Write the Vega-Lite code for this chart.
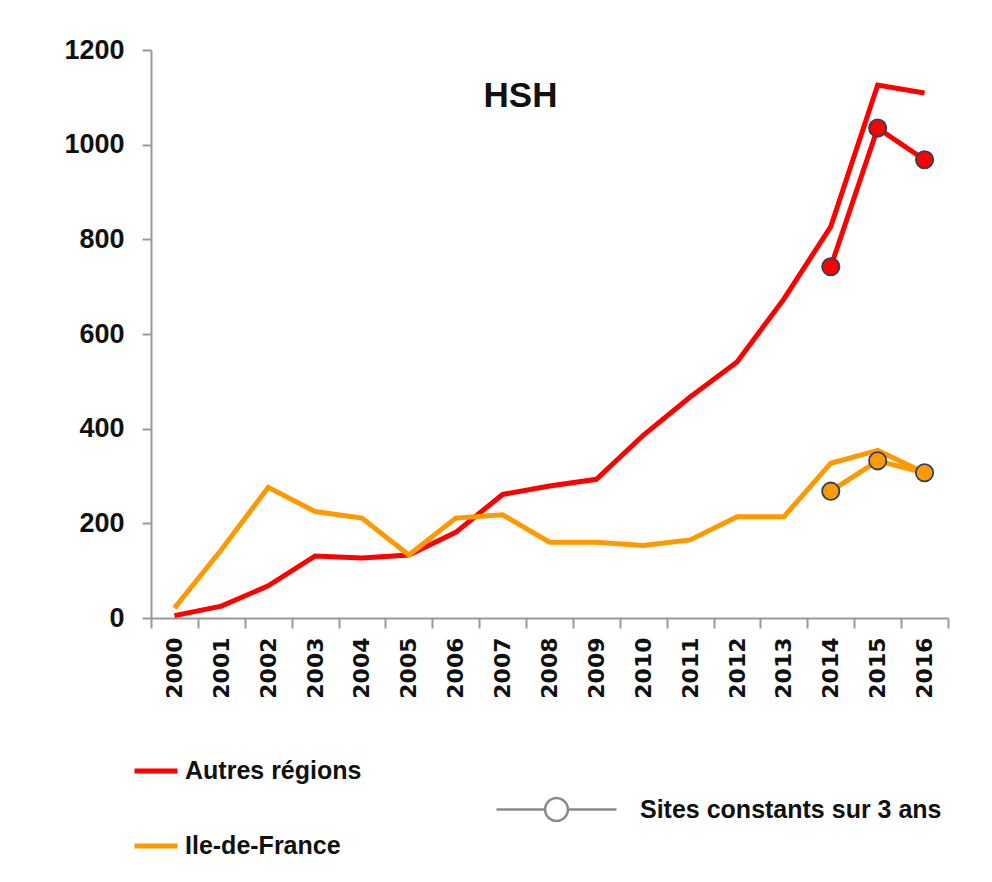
{
  "$schema": "https://vega.github.io/schema/vega-lite/v6.json",
  "width": 797,
  "height": 568,
  "autosize": {"type": "none"},
  "padding": {"left": 151, "top": 50, "right": 44, "bottom": 264},
  "background": "white",
  "config": {"view": {"stroke": null}},
  "title": {"text": "HSH", "font": "Liberation Sans", "fontWeight": "bold", "fontSize": 35, "color": "#111", "anchor": "middle", "frame": "group", "dx": -29, "offset": 0, "baseline": "alphabetic", "dy": 106},
  "data": {"values": [
    {"year": "2000", "series": "Autres régions", "kind": "all", "value": 5},
    {"year": "2001", "series": "Autres régions", "kind": "all", "value": 25},
    {"year": "2002", "series": "Autres régions", "kind": "all", "value": 68},
    {"year": "2003", "series": "Autres régions", "kind": "all", "value": 131},
    {"year": "2004", "series": "Autres régions", "kind": "all", "value": 127},
    {"year": "2005", "series": "Autres régions", "kind": "all", "value": 133},
    {"year": "2006", "series": "Autres régions", "kind": "all", "value": 181},
    {"year": "2007", "series": "Autres régions", "kind": "all", "value": 261},
    {"year": "2008", "series": "Autres régions", "kind": "all", "value": 279},
    {"year": "2009", "series": "Autres régions", "kind": "all", "value": 293},
    {"year": "2010", "series": "Autres régions", "kind": "all", "value": 386},
    {"year": "2011", "series": "Autres régions", "kind": "all", "value": 467},
    {"year": "2012", "series": "Autres régions", "kind": "all", "value": 541},
    {"year": "2013", "series": "Autres régions", "kind": "all", "value": 674},
    {"year": "2014", "series": "Autres régions", "kind": "all", "value": 827},
    {"year": "2015", "series": "Autres régions", "kind": "all", "value": 1126},
    {"year": "2016", "series": "Autres régions", "kind": "all", "value": 1109},
    {"year": "2000", "series": "Ile-de-France", "kind": "all", "value": 21},
    {"year": "2001", "series": "Ile-de-France", "kind": "all", "value": 144},
    {"year": "2002", "series": "Ile-de-France", "kind": "all", "value": 276},
    {"year": "2003", "series": "Ile-de-France", "kind": "all", "value": 225},
    {"year": "2004", "series": "Ile-de-France", "kind": "all", "value": 211},
    {"year": "2005", "series": "Ile-de-France", "kind": "all", "value": 133},
    {"year": "2006", "series": "Ile-de-France", "kind": "all", "value": 211},
    {"year": "2007", "series": "Ile-de-France", "kind": "all", "value": 218},
    {"year": "2008", "series": "Ile-de-France", "kind": "all", "value": 160},
    {"year": "2009", "series": "Ile-de-France", "kind": "all", "value": 160},
    {"year": "2010", "series": "Ile-de-France", "kind": "all", "value": 153},
    {"year": "2011", "series": "Ile-de-France", "kind": "all", "value": 165},
    {"year": "2012", "series": "Ile-de-France", "kind": "all", "value": 214},
    {"year": "2013", "series": "Ile-de-France", "kind": "all", "value": 214},
    {"year": "2014", "series": "Ile-de-France", "kind": "all", "value": 327},
    {"year": "2015", "series": "Ile-de-France", "kind": "all", "value": 354},
    {"year": "2016", "series": "Ile-de-France", "kind": "all", "value": 307},
    {"year": "2014", "series": "Autres régions", "kind": "const", "value": 742},
    {"year": "2015", "series": "Autres régions", "kind": "const", "value": 1035},
    {"year": "2016", "series": "Autres régions", "kind": "const", "value": 968},
    {"year": "2014", "series": "Ile-de-France", "kind": "const", "value": 268},
    {"year": "2015", "series": "Ile-de-France", "kind": "const", "value": 332},
    {"year": "2016", "series": "Ile-de-France", "kind": "const", "value": 307}
  ]},
  "encoding": {
    "x": {
      "field": "year", "type": "ordinal",
      "scale": {"type": "band", "paddingInner": 0, "paddingOuter": 0},
      "axis": {"title": null, "labelAngle": -90, "labelFont": "DejaVu Sans", "labelFontWeight": "bold", "labelFontSize": 22, "labelColor": "#111", "labelPadding": 9, "tickBand": "extent", "tickSize": 10, "tickColor": "#999", "tickWidth": 2, "domainColor": "#999", "domainWidth": 2, "grid": false, "labelOverlap": false}
    },
    "y": {
      "field": "value", "type": "quantitative",
      "scale": {"domain": [0, 1200], "nice": false},
      "axis": {"title": null, "values": [0, 200, 400, 600, 800, 1000, 1200], "format": "d", "labelFont": "Liberation Sans", "labelFontWeight": "bold", "labelFontSize": 27, "labelColor": "#111", "labelPadding": 18, "tickSize": 9, "tickColor": "#999", "tickWidth": 2, "domainColor": "#999", "domainWidth": 2, "grid": false, "labelOverlap": false}
    }
  },
  "layer": [
    {
      "transform": [{"filter": "datum.kind === 'all'"}],
      "mark": {"type": "line", "strokeWidth": 5, "strokeJoin": "miter"},
      "encoding": {
        "color": {
          "field": "series", "type": "nominal",
          "scale": {"domain": ["Autres régions", "Ile-de-France"], "range": ["#ff0000", "#ff9900"]},
          "legend": {"title": null, "orient": "none", "legendX": -19, "legendY": 697, "direction": "vertical", "symbolType": "stroke", "symbolSize": 1849, "symbolStrokeWidth": 5, "labelOffset": 5, "labelFont": "Liberation Sans", "labelFontWeight": "bold", "labelFontSize": 25, "labelColor": "#111", "labelLimit": 400, "rowPadding": 38, "padding": 0}
        }
      }
    },
    {
      "transform": [{"filter": "datum.kind === 'const'"}],
      "mark": {"type": "line", "strokeWidth": 5, "strokeJoin": "miter"},
      "encoding": {
        "color": {"field": "series", "type": "nominal", "legend": null},
        "strokeDash": {
          "datum": "Sites constants sur 3 ans", "type": "nominal",
          "scale": {"range": [[1, 0]]},
          "legend": {"title": null, "orient": "none", "legendX": 344, "legendY": 698, "symbolType": "M-1,0H-0.19M0.19,0H1M-0.19,0A0.19,0.19 0 1,0 0.19,0A0.19,0.19 0 1,0 -0.19,0Z", "symbolSize": 14400, "symbolFillColor": "white", "symbolStrokeColor": "#8a8a8a", "symbolStrokeWidth": 2.5, "symbolOpacity": 1, "labelOffset": 22, "labelFont": "Liberation Sans", "labelFontWeight": "bold", "labelFontSize": 25, "labelColor": "#111", "labelLimit": 500, "padding": 0}
        }
      }
    },
    {
      "transform": [{"filter": "datum.kind === 'const'"}],
      "mark": {"type": "point", "filled": true, "size": 300, "stroke": "#2f3f5f", "strokeWidth": 1.8, "opacity": 1},
      "encoding": {
        "fill": {"field": "series", "type": "nominal", "scale": {"domain": ["Autres régions", "Ile-de-France"], "range": ["#ff0000", "#ff9900"]}, "legend": null}
      }
    }
  ]
}
